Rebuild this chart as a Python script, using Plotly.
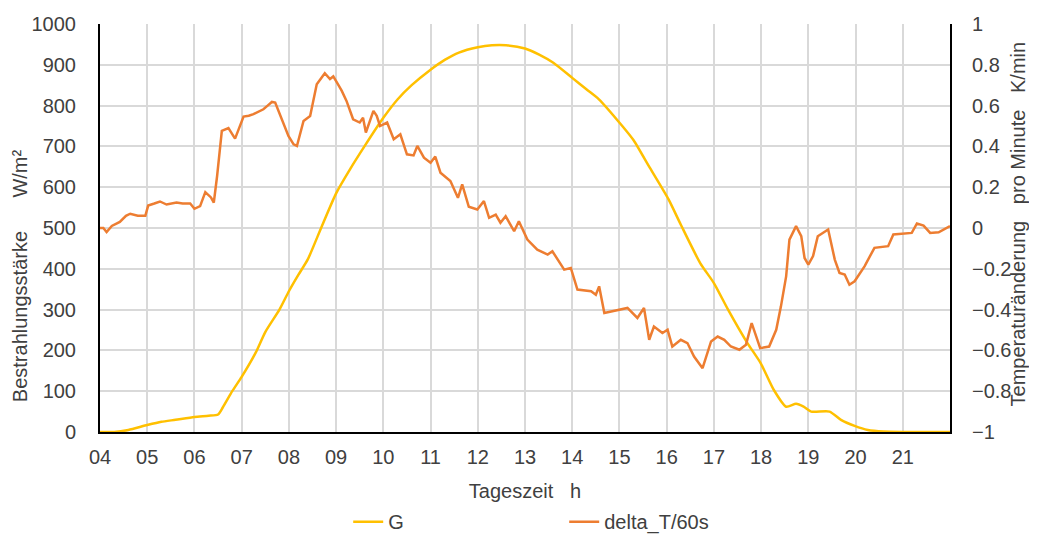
import plotly.graph_objects as go

# G (Bestrahlungsstärke, W/m²)
g_hours = [4.0, 4.3, 4.6, 5.0, 5.3, 5.6, 6.0, 6.3, 6.5, 6.6, 6.8, 7.0, 7.3, 7.5, 7.8, 8.0,
           8.2, 8.4, 8.7, 9.0, 9.3, 9.6, 10.0, 10.3, 10.6, 11.0, 11.3, 11.6, 12.0, 12.3,
           12.6, 13.0, 13.3, 13.6, 14.0, 14.3, 14.56, 15.06, 15.3, 15.62, 16.04, 16.3,
           16.71, 17.0, 17.3, 17.71, 17.99, 18.27, 18.53, 18.74, 18.9, 19.06, 19.45,
           19.7, 19.98, 20.26, 20.6, 21.0, 21.5, 22.0]
g_values = [0, 0, 5, 17, 25, 30, 37, 40, 43, 60, 100, 135, 195, 245, 300, 345,
            385, 423, 505, 585, 645, 700, 770, 815, 850, 888, 912, 930, 943, 948,
            948, 940, 925, 905, 868, 840, 816, 750, 715, 652, 570, 508,
            414, 365, 300, 218, 169, 103, 62, 69, 62, 50, 50,
            29, 15, 5, 1, 0, 0, 0]

# delta_T/60s (Temperaturänderung pro Minute, K/min)
t_hours = [4.00, 4.07, 4.14, 4.25, 4.42, 4.55, 4.64, 4.80, 4.96, 5.02, 5.15, 5.27, 5.41,
           5.50, 5.62, 5.75, 5.91, 6.00, 6.12, 6.23, 6.35, 6.41, 6.48, 6.58, 6.72, 6.80,
           6.86, 7.04, 7.15, 7.25, 7.35, 7.46, 7.55, 7.64, 7.71, 7.85, 7.99, 8.10, 8.17,
           8.31, 8.45, 8.59, 8.76, 8.87, 8.94, 9.05, 9.12, 9.22, 9.36, 9.50, 9.57, 9.63,
           9.72, 9.79, 9.86, 9.93, 10.08, 10.22, 10.36, 10.50, 10.64, 10.72, 10.86, 11.00,
           11.10, 11.21, 11.42, 11.58, 11.67, 11.81, 11.99, 12.13, 12.24, 12.38, 12.48,
           12.59, 12.77, 12.87, 13.05, 13.26, 13.48, 13.58, 13.83, 13.97, 14.11, 14.40,
           14.50, 14.57, 14.68, 14.82, 15.00, 15.17, 15.38, 15.52, 15.63, 15.73, 15.91,
           16.02, 16.12, 16.30, 16.44, 16.58, 16.76, 16.94, 17.08, 17.22, 17.36, 17.54,
           17.68, 17.80, 17.98, 18.17, 18.32, 18.42, 18.53, 18.60, 18.74, 18.85, 18.92,
           19.00, 19.10, 19.20, 19.42, 19.56, 19.66, 19.77, 19.87, 19.98, 20.19, 20.40,
           20.69, 20.80, 21.19, 21.30, 21.44, 21.58, 21.76, 21.90, 22.00]
t_values = [0.00, 0.00, -0.02, 0.01, 0.03, 0.06, 0.07, 0.06, 0.06, 0.11, 0.12, 0.13, 0.115,
            0.12, 0.125, 0.12, 0.12, 0.094, 0.107, 0.176, 0.15, 0.124, 0.255, 0.476, 0.49, 0.46,
            0.438, 0.546, 0.55, 0.558, 0.57, 0.582, 0.60, 0.618, 0.615, 0.533, 0.451, 0.41, 0.402,
            0.525, 0.549, 0.705, 0.759, 0.73, 0.743, 0.70, 0.672, 0.623, 0.533, 0.517, 0.54, 0.468,
            0.53, 0.574, 0.55, 0.50, 0.517, 0.435, 0.459, 0.361, 0.356, 0.402, 0.345, 0.32,
            0.35, 0.271, 0.23, 0.148, 0.214, 0.104, 0.091, 0.132, 0.05, 0.066, 0.026,
            0.058, -0.016, 0.033, -0.057, -0.106, -0.13, -0.114, -0.204, -0.196, -0.302, -0.31,
            -0.327, -0.286, -0.417, -0.409, -0.40, -0.392, -0.441, -0.392, -0.548, -0.483, -0.515,
            -0.499, -0.581, -0.548, -0.564, -0.63, -0.687, -0.556, -0.532, -0.548, -0.581, -0.597,
            -0.572, -0.466, -0.589, -0.581, -0.499, -0.384, -0.237, -0.057, 0.009, -0.04, -0.147,
            -0.179, -0.138, -0.04, -0.007, -0.155, -0.22, -0.228, -0.278, -0.261, -0.188, -0.097,
            -0.089, -0.032, -0.024, 0.022, 0.012, -0.024, -0.021, -0.004, 0.009]

x_tickvals = list(range(4, 22))
x_ticklabels = ["04", "05", "06", "07", "08", "09", "10", "11", "12", "13", "14", "15",
                "16", "17", "18", "19", "20", "21"]

FONT = "Liberation Sans, Arial, sans-serif"
TXT = "#404040"
NB = "\u00a0"
FS = 20

fig = go.Figure()
fig.add_trace(go.Scatter(x=g_hours, y=g_values, name="G", mode="lines",
                         line=dict(color="#FFC000", width=2.5, shape="spline", smoothing=0.6)))
fig.add_trace(go.Scatter(x=t_hours, y=t_values, name="delta_T/60s", mode="lines", yaxis="y2",
                         line=dict(color="#ED7D31", width=2.5)))

fig.update_layout(
    width=1037, height=534,
    margin=dict(l=92, r=95, t=16, b=110, autoexpand=False),
    paper_bgcolor="white", plot_bgcolor="white",
    font=dict(family=FONT, size=FS, color=TXT),
    showlegend=True,
    legend=dict(orientation="h", x=0.292, xanchor="left", y=-0.172, yanchor="top",
                font=dict(size=FS, color=TXT), tracegroupgap=0,
                entrywidth=171, entrywidthmode="pixels"),
    xaxis=dict(range=[4, 22], tickvals=x_tickvals, ticktext=x_ticklabels, automargin=False,
               showgrid=True, gridcolor="#d9d9d9", gridwidth=2,
               showline=True, linecolor="black", linewidth=2, zeroline=False,
               ticks="", ticklabelstandoff=6,
               title=dict(text="Tageszeit" + NB * 3 + "h", font=dict(size=FS, color=TXT), standoff=17),
               tickfont=dict(size=FS, color=TXT)),
    yaxis=dict(range=[0, 1000], dtick=100, tick0=0, automargin=False,
               showgrid=True, gridcolor="#d9d9d9", gridwidth=2,
               showline=True, linecolor="black", linewidth=2, zeroline=False,
               ticks="", ticklabelstandoff=18,
               tickfont=dict(size=FS, color=TXT)),
    yaxis2=dict(range=[-1, 1], dtick=0.2, tick0=-1, overlaying="y", side="right", automargin=False,
                showgrid=False, showline=True, linecolor="black", linewidth=2, zeroline=False,
                ticks="", ticklabelstandoff=16,
                tickfont=dict(size=FS, color=TXT)),
    annotations=[
        dict(text="Bestrahlungsstärke" + NB * 6 + "W/m²", textangle=-90, showarrow=False,
             xref="paper", yref="paper", x=-0.0941, y=0.382, xanchor="center", yanchor="middle",
             font=dict(size=FS, color=TXT)),
        dict(text="Temperaturänderung" + NB * 3 + "pro Minute" + NB * 3 + "K/min", textangle=-90,
             showarrow=False, xref="paper", yref="paper", x=1.0795, y=0.51,
             xanchor="center", yanchor="middle", font=dict(size=FS, color=TXT)),
    ],
)

fig.write_html("out.html")
